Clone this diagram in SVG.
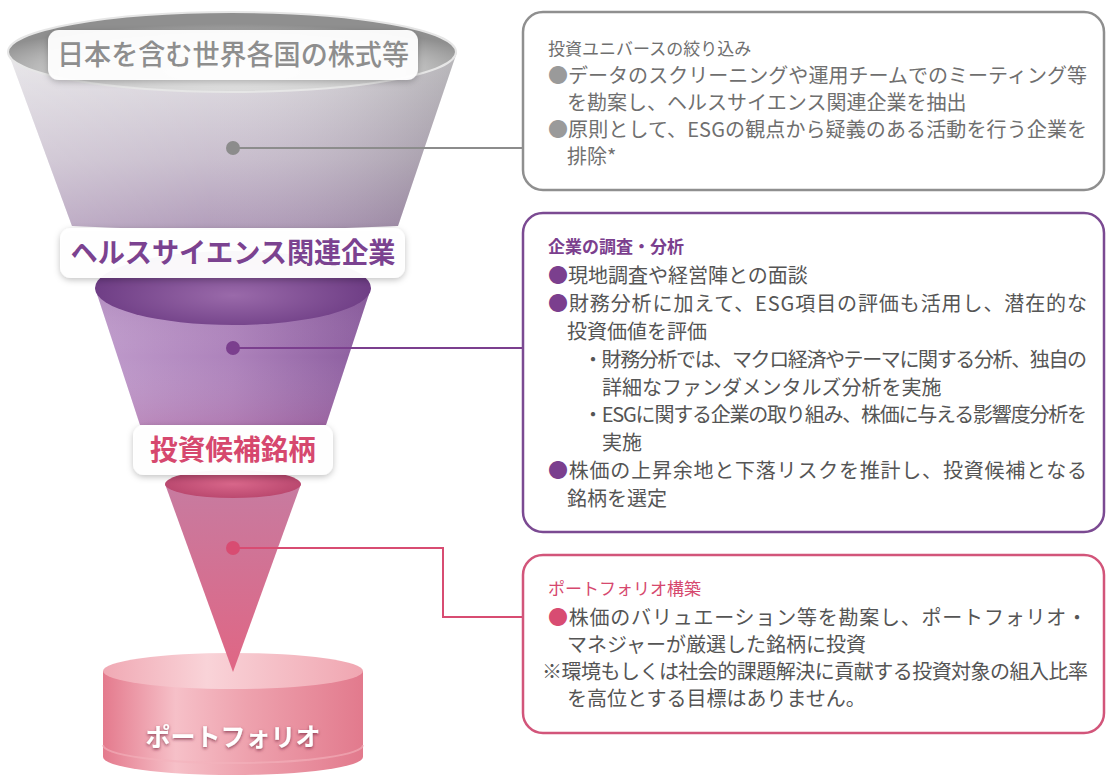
<svg xmlns="http://www.w3.org/2000/svg" width="1108" height="775" viewBox="0 0 1108 775">
<defs>
<style>
.jp{font-family:"Noto Sans CJK JP","Noto Sans CJK SC",sans-serif}
.body{font-size:20px;fill:#555}
.b1{fill:#6f6f6f}
.ttl{font-size:17px}
.lbl{font-size:28px;font-weight:bold;text-anchor:middle}
.box{fill:#fff;stroke-width:2.5}
.conn{fill:none;stroke-width:2}
</style>
<filter id="sh" x="-20%" y="-30%" width="140%" height="170%">
<feDropShadow dx="0" dy="2" stdDeviation="3" flood-color="#000" flood-opacity="0.25"/>
</filter>
<filter id="tsh" x="-10%" y="-30%" width="120%" height="170%">
<feDropShadow dx="0" dy="1.5" stdDeviation="1.5" flood-color="#6a1f33" flood-opacity="0.7"/>
</filter>
<linearGradient id="g1v" x1="0" y1="0" x2="0" y2="1">
<stop offset="0" stop-color="#e2e1e4"/>
<stop offset="0.6" stop-color="#c7bccc"/>
<stop offset="1" stop-color="#ae98b7"/>
</linearGradient>
<linearGradient id="hshade" x1="0" y1="0" x2="1" y2="0">
<stop offset="0" stop-color="#fff" stop-opacity="0.25"/>
<stop offset="0.45" stop-color="#fff" stop-opacity="0.05"/>
<stop offset="1" stop-color="#000" stop-opacity="0.18"/>
</linearGradient>
<radialGradient id="g1top" cx="0.5" cy="0.75" r="0.6">
<stop offset="0" stop-color="#ededed"/>
<stop offset="0.6" stop-color="#cfcfcf"/>
<stop offset="1" stop-color="#8f8f8f"/>
</radialGradient>
<linearGradient id="g2v" x1="0" y1="0" x2="1" y2="0">
<stop offset="0" stop-color="#bf9bcb"/>
<stop offset="0.5" stop-color="#ad82bb"/>
<stop offset="1" stop-color="#8a5b9d"/>
</linearGradient>
<linearGradient id="g2vv" x1="0" y1="0" x2="0" y2="1">
<stop offset="0" stop-color="#5a2f70" stop-opacity="0.15"/>
<stop offset="0.5" stop-color="#fff" stop-opacity="0"/>
<stop offset="1" stop-color="#c0507e" stop-opacity="0.15"/>
</linearGradient>
<radialGradient id="g2top" cx="0.5" cy="0.6" r="0.6">
<stop offset="0" stop-color="#9a6aaa"/>
<stop offset="1" stop-color="#66357e"/>
</radialGradient>
<linearGradient id="g3" x1="0" y1="0" x2="0" y2="1">
<stop offset="0" stop-color="#c77ba0"/>
<stop offset="1" stop-color="#e06684"/>
</linearGradient>
<radialGradient id="g3top" cx="0.5" cy="0.5" r="0.6">
<stop offset="0" stop-color="#d8668a"/>
<stop offset="1" stop-color="#b5436a"/>
</radialGradient>
<linearGradient id="gcyl" x1="0" y1="0" x2="1" y2="0">
<stop offset="0" stop-color="#e47a8d"/>
<stop offset="0.28" stop-color="#f6c0c8"/>
<stop offset="0.55" stop-color="#eea2ae"/>
<stop offset="1" stop-color="#e27a8d"/>
</linearGradient>
<linearGradient id="gcyltop" x1="0" y1="0" x2="1" y2="0">
<stop offset="0" stop-color="#f0a9b4"/>
<stop offset="0.4" stop-color="#f9d3d8"/>
<stop offset="1" stop-color="#f0a6b1"/>
</linearGradient>
</defs>
<rect width="1108" height="775" fill="#ffffff"/>

<g id="stage-universe">
<path d="M8 52 L72 226 Q235 234 398 226 L457 52 Z" fill="url(#g1v)"/>
<path d="M8 52 L72 226 Q235 234 398 226 L457 52 Z" fill="url(#hshade)"/>
<ellipse cx="232" cy="52" rx="224" ry="40" fill="url(#g1top)" stroke="#e6e6e6" stroke-width="2"/>
</g>

<g id="stage-portfolio">
<path d="M103 671 L103 757 A130 18 0 0 0 363 757 L363 671 Z" fill="url(#gcyl)"/>
<path d="M103 745 A130 18 0 0 0 363 745" fill="none" stroke="#f3b3bd" stroke-width="2" opacity="0.6"/>
<ellipse cx="233" cy="671" rx="130" ry="18" fill="url(#gcyltop)"/>
<text class="jp" x="233" y="746" font-size="25" font-weight="bold" fill="#fff" text-anchor="middle" filter="url(#tsh)">ポートフォリオ</text>
</g>

<g id="stage-research">
<path d="M95 288 L140 425 L326 425 L371 288 Z" fill="url(#g2v)"/>
<path d="M95 288 L140 425 L326 425 L371 288 Z" fill="url(#g2vv)"/>
<ellipse cx="233" cy="288" rx="138" ry="37" fill="url(#g2top)"/>
</g>

<g id="stage-candidates">
<path d="M165 484 L233 672 L301 484 Z" fill="url(#g3)"/>
<ellipse cx="233" cy="484" rx="68" ry="14" fill="url(#g3top)"/>
</g>

<g id="label-universe">
<rect x="48" y="30" width="370" height="50" rx="11" fill="#fff" fill-opacity="0.95" filter="url(#sh)"/>
<text class="jp lbl" x="233" y="65" font-size="27" font-weight="500" fill="#8e8e8e" textLength="352" lengthAdjust="spacingAndGlyphs" style="font-weight:500">日本を含む世界各国の株式等</text>
</g>

<g id="label-health">
<rect x="60" y="228" width="345" height="50" rx="11" fill="#fff" fill-opacity="0.96" filter="url(#sh)"/>
<text class="jp lbl" x="233" y="263" fill="#7b4290" textLength="325" lengthAdjust="spacingAndGlyphs">ヘルスサイエンス関連企業</text>
</g>

<g id="label-candidates">
<rect x="133" y="425" width="200" height="50" rx="11" fill="#fff" fill-opacity="0.96" filter="url(#sh)"/>
<text class="jp lbl" x="233" y="460" fill="#d6486e" textLength="166" lengthAdjust="spacingAndGlyphs">投資候補銘柄</text>
</g>

<g id="connectors">
<path class="conn" d="M233 148 H523" stroke="#8c8c8c"/>
<circle cx="233" cy="148" r="7" fill="#8c8c8c"/>
<path class="conn" d="M233 348 H523" stroke="#7b3f8e"/>
<circle cx="233" cy="348" r="7" fill="#7b3f8e"/>
<path class="conn" d="M233 548 H443 V617 H523" stroke="#d84c72"/>
<circle cx="233" cy="548" r="7" fill="#d84c72"/>
</g>

<g id="box-universe">
<rect class="box" x="523" y="12" width="581" height="178" rx="20" stroke="#8f8f8f"/>
<g class="jp body b1">
<text class="ttl" x="548" y="55">投資ユニバースの絞り込み</text>
<text x="548" y="83" textLength="539"><tspan fill="#9a9a9a">●</tspan>データのスクリーニングや運用チームでのミーティング等</text>
<text x="567" y="110">を勘案し、ヘルスサイエンス関連企業を抽出</text>
<text x="548" y="137" textLength="539"><tspan fill="#9a9a9a">●</tspan>原則として、ESGの観点から疑義のある活動を行う企業を</text>
<text x="567" y="164">排除*</text>
</g>
</g>

<g id="box-research">
<rect class="box" x="523" y="213" width="581" height="319" rx="20" stroke="#7b4a92"/>
<g class="jp body">
<text class="ttl" x="548" y="253" font-weight="bold" fill="#7b3f8e">企業の調査・分析</text>
<text x="548" y="283"><tspan fill="#7b3f8e">●</tspan>現地調査や経営陣との面談</text>
<text x="548" y="311" textLength="539"><tspan fill="#7b3f8e">●</tspan>財務分析に加えて、ESG項目の評価も活用し、潜在的な</text>
<text x="567" y="339">投資価値を評価</text>
<text x="583" y="367" textLength="504">・財務分析では、マクロ経済やテーマに関する分析、独自の</text>
<text x="602" y="395">詳細なファンダメンタルズ分析を実施</text>
<text x="583" y="422" textLength="504">・ESGに関する企業の取り組み、株価に与える影響度分析を</text>
<text x="602" y="450">実施</text>
<text x="548" y="478" textLength="539"><tspan fill="#7b3f8e">●</tspan>株価の上昇余地と下落リスクを推計し、投資候補となる</text>
<text x="567" y="506">銘柄を選定</text>
</g>
</g>

<g id="box-portfolio">
<rect class="box" x="523" y="555" width="581" height="178" rx="20" stroke="#d2557a"/>
<g class="jp body">
<text class="ttl" x="548" y="595" fill="#d6486e">ポートフォリオ構築</text>
<text x="548" y="625" textLength="539"><tspan fill="#d84c72">●</tspan>株価のバリュエーション等を勘案し、ポートフォリオ・</text>
<text x="567" y="652">マネジャーが厳選した銘柄に投資</text>
<text x="542" y="679" textLength="546">※環境もしくは社会的課題解決に貢献する投資対象の組入比率</text>
<text x="567" y="706">を高位とする目標はありません。</text>
</g>
</g>
</svg>
